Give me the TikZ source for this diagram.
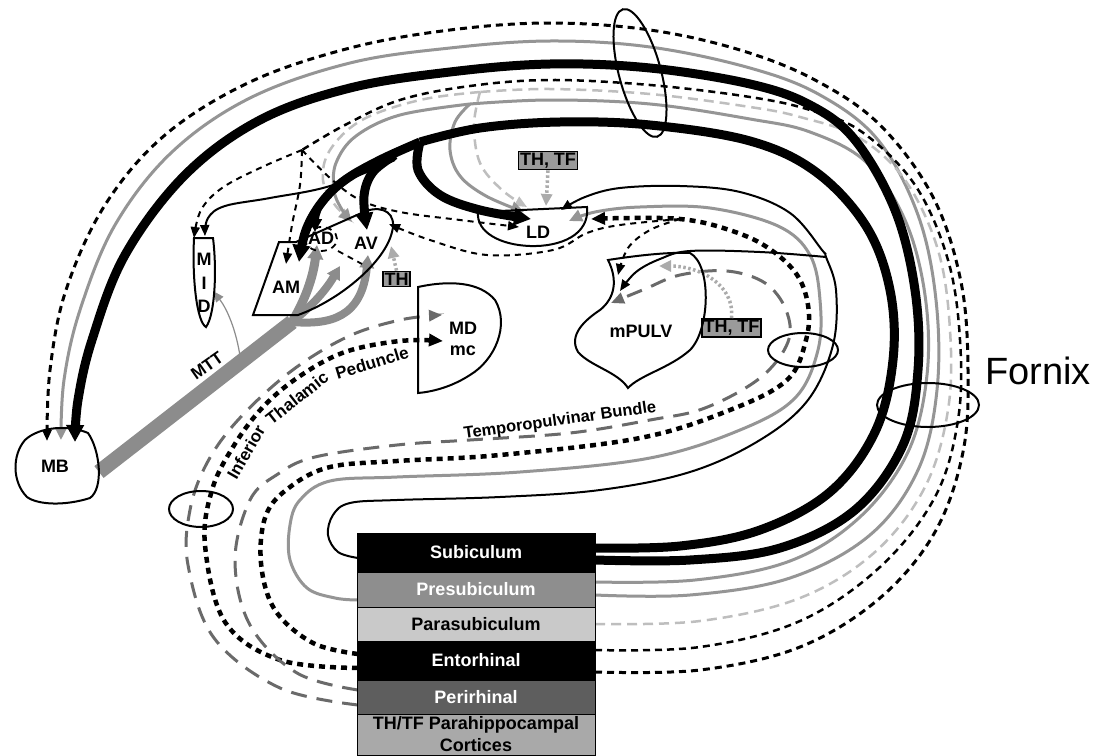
\documentclass[tikz,border=0pt]{standalone}
\usepackage{fontspec}
\setmainfont{Liberation Sans}
\usetikzlibrary{arrows.meta,calc}
\definecolor{gmid}{HTML}{959595}
\definecolor{glight}{HTML}{BEBEBE}
\definecolor{gdark}{HTML}{6A6A6A}
\definecolor{gmtt}{HTML}{8C8C8C}
\definecolor{gpre}{HTML}{8E8E8E}
\definecolor{gpara}{HTML}{C9C9C9}
\definecolor{gperi}{HTML}{5E5E5E}
\definecolor{gthtf}{HTML}{A9A9A9}
\definecolor{gboxc}{HTML}{9A9A9A}
\definecolor{gdot}{HTML}{ABABAB}
\tikzset{
  lbl/.style={font=\fontsize{18}{20}\selectfont\bfseries},
  outl/.style={draw=black, line width=2pt},
  thk/.style={draw=black, line width=9pt},
  tipK/.style={-{Triangle[length=17pt,width=17pt]}},
  tipG/.style={-{Triangle[length=13pt,width=12pt]}},
  tipS/.style={-{Triangle[length=11pt,width=9pt]}},
  grayln/.style={draw=gmid, line width=3pt},
  bdash/.style={draw=black, line width=3pt, dash pattern=on 7pt off 5pt},
  tdash/.style={draw=black, line width=2pt, dash pattern=on 6pt off 5pt},
  lgdash/.style={draw=glight, line width=2.5pt, dash pattern=on 10pt off 6pt},
  hdash/.style={draw=black, line width=4.5pt, dash pattern=on 6pt off 5pt},
  ldash/.style={draw=gdark, line width=3pt, dash pattern=on 16pt off 10pt},
  fineln/.style={draw=black, line width=2pt},
  dotln/.style={draw=gdot, line width=3.5pt, dash pattern=on 2.5pt off 2.5pt},
  rowbox/.style={minimum width=238pt, inner sep=0pt, draw=black, line width=1pt,
    font=\fontsize{18}{20}\selectfont\bfseries},
  thbox/.style={draw=black, fill=gboxc, line width=1.5pt, inner sep=1.5pt,
    font=\fontsize{18}{19}\selectfont\bfseries},
  ring/.style={draw=black, line width=2pt},
  pathlbl/.style={font=\fontsize{17}{19}\selectfont\bfseries, inner sep=0pt},
  sm/.style={smooth, tension=0.6}
}
\begin{document}
\begin{tikzpicture}[x=1pt,y=-1pt]
\useasboundingbox (0,0) rectangle (1103,755);
\fill[white] (0,0) rectangle (1103,755);

% ---------- outlet coordinates on the cortical stack ----------
\coordinate (subR1) at (595,548); \coordinate (subR2) at (595,560);
\coordinate (preR1) at (595,582); \coordinate (preR2) at (595,595);
\coordinate (paraR) at (595,624);
\coordinate (entR1) at (595,650); \coordinate (entR2) at (595,672);
\coordinate (subL) at (358,558); \coordinate (preL) at (358,600);
\coordinate (entL1) at (358,654); \coordinate (entL2) at (358,668);
\coordinate (periL1) at (358,690); \coordinate (periL2) at (358,705);
% targets
\coordinate (mb1) at (47,441); \coordinate (mb2) at (61,440); \coordinate (mb3) at (75,442);
\coordinate (Y) at (302,150);
\coordinate (s5) at (480,92); \coordinate (s6) at (470,104);
\coordinate (s7) at (420,142); \coordinate (j3) at (680,219);
\coordinate (j1) at (826,257);

% ---------- Fornix: thin lines ----------
\draw[bdash,tipS] plot[sm] coordinates {(entR2) (700,670) (800,647) (880,598) (935,532) (963,452) (968,370) (961,282) (933,197) (880,125) (815,80) (740,50) (650,30) (550,23) (450,30) (350,48) (250,82) (165,135) (105,205) (66,290) (50,370) (mb1)};
\draw[grayln,tipG] plot[sm] coordinates {(preR2) (690,595) (790,578) (870,535) (918,470) (937,390) (936,300) (918,215) (878,140) (820,95) (750,68) (650,47) (550,41) (450,48) (350,63) (250,98) (172,152) (115,225) (80,310) (64,380) (mb2)};
\draw[bdash,line width=2.5pt] plot[sm] coordinates {(entR1) (700,647) (800,621) (880,567) (935,497) (958,420) (960,340) (948,260) (915,185) (862,132) (810,110) (750,97) (650,85) (550,80) (470,86) (400,100) (345,125) (Y)};
\draw[lgdash] plot[sm] coordinates {(paraR) (700,621) (800,598) (875,552) (925,487) (948,410) (950,330) (938,250) (905,180) (858,137) (800,117) (750,107) (650,94) (550,89) (s5)};
\draw[lgdash,-{Triangle[length=12pt,width=10pt]}] plot[sm] coordinates {(s5) (474,125) (480,163) (502,190) (527,207)};
\draw[lgdash,-{Triangle[length=12pt,width=10pt]}] plot[sm] coordinates {(s5) (420,100) (362,120) (330,150) (323,180) (335,205) (351,220)};
\draw[grayln] plot[sm] coordinates {(preR1) (695,580) (790,561) (860,517) (908,452) (927,375) (925,295) (905,220) (866,162) (810,132) (750,119) (650,104) (550,100) (s6)};
\draw[grayln,tipG] plot[sm] coordinates {(s6) (455,122) (450,150) (460,176) (486,196) (524,212)};
\draw[grayln,tipG] plot[sm] coordinates {(s6) (400,115) (356,136) (336,163) (334,190) (341,208) (352,222)};

% dashed branches from Y
\draw[tdash,tipS] plot[sm] coordinates {(Y) (260,168) (222,188) (201,210) (194,238)};
\draw[tdash,tipS] plot[sm] coordinates {(Y) (300,185) (292,225) (286,264)};
\draw[tdash,tipS] plot[sm] coordinates {(Y) (330,178) (360,200) (400,212) (460,220) (519,227)};

% ---------- Fornix: thick black ----------
\draw[thk,tipK] plot[sm] coordinates {(subR2) (690,560) (780,548) (855,510) (903,445) (918,370) (915,290) (895,210) (855,140) (810,105) (750,84) (650,68) (550,64) (450,72) (350,88) (260,120) (185,175) (125,255) (92,340) (78,400) (mb3)};
\draw[thk] plot[sm] coordinates {(subR1) (680,546) (760,530) (830,492) (875,432) (893,360) (890,290) (866,226) (816,172) (750,141) (650,125) (560,122) (480,128) (s7)};
\draw[thk,tipK] plot[sm] coordinates {(s7) (380,160) (345,180) (322,202) (306,230) (299,262)};
\draw[thk,tipK] plot[sm] coordinates {(395,155) (373,172) (364,196) (367,230)};
\draw[thk,line width=6pt,-{Triangle[length=13pt,width=13pt]}] plot[sm] coordinates {(345,180) (326,196) (317,214) (315,232)};
\draw[thk,tipK] plot[sm] coordinates {(s7) (418,170) (440,195) (480,210) (531,219)};
% thin solid to MID
\draw[fineln,tipS] plot[sm] coordinates {(395,160) (330,186) (270,198) (225,206) (208,218) (205,236)};

% ---------- loops (temporopulvinar / inferior thalamic peduncle) ----------
\draw[ldash,-{Triangle[length=13pt,width=11pt]}] plot[sm] coordinates {(periL2) (280,688) (214,638) (188,565) (190,510) (207,463) (238,420) (290,372) (347,337) (400,320) (442,315)};
\draw[hdash,-{Triangle[length=14pt,width=12pt]}] plot[sm] coordinates {(entL2) (280,660) (225,622) (205,545) (212,490) (233,447) (263,407) (300,376) (345,352) (400,341) (443,341)};
\draw[ldash,-{Triangle[length=13pt,width=11pt]}] plot[sm] coordinates {(periL1) (297,673) (250,625) (235,560) (250,500) (278,474) (315,457) (397,445) (470,440) (570,433) (650,420) (705,408) (760,378) (788,342) (786,310) (765,283) (727,271) (680,275) (645,289) (611,303)};
\draw[grayln,tipG] plot[sm] coordinates {(preL) (335,598) (307,588) (290,560) (290,525) (300,500) (330,481) (397,477) (520,472) (650,458) (740,430) (795,398) (818,350) (820,300) (810,255) (778,226) (710,208) (640,207) (595,212) (569,221)};
\draw[hdash,-{Triangle[length=14pt,width=12pt]}] plot[sm] coordinates {(entL1) (313,643) (275,610) (261,563) (266,515) (290,487) (330,467) (397,461) (500,455) (640,438) (730,410) (787,380) (806,340) (808,305) (795,272) (762,244) (720,227) (j3) (630,218) (591,219)};
\draw[tdash,tipS] plot[sm] coordinates {(j3) (620,225) (587,233) (553,250) (487,255) (430,240) (389,224)};
\draw[tdash,tipS] plot[sm] coordinates {(j3) (650,230) (628,248) (618,275)};
\draw[fineln,tipS] plot[sm] coordinates {(subL) (338,552) (328,535) (333,515) (350,503) (397,500) (500,497) (600,490) (690,472) (760,440) (808,400) (833,345) (836,290) (j1) (822,250) (790,213) (740,192) (680,186) (620,188) (585,197) (561,210)};
\draw[fineln,tipS] plot[sm] coordinates {(j1) (760,252) (690,251) (660,259) (636,272) (620,291)};

% ---------- TH / TH,TF inputs ----------
\node[thbox] (thLD) at (548,160.5) {TH, TF};
\node[thbox] (thAV) at (396.5,279) {TH};
\node[thbox] (thPU) at (731.5,328) {TH, TF};
\draw[dotln,-{Triangle[length=12pt,width=11pt]}] (thLD.south) -- (546,206);
\draw[dotln,-{Triangle[length=12pt,width=11pt]}] (thAV.north) -- (391,246);
\draw[dotln,-{Triangle[length=12pt,width=11pt]}] (thPU.north) .. controls (735,285) and (700,266) .. (659,266);

% ---------- MTT ----------
\coordinate (mbR) at (99,472);
\coordinate (mttS) at (292,322);
\draw[draw=gmtt,line width=15pt] (mbR) -- (mttS);
\draw[draw=gmtt,line width=9pt,-{Triangle[length=14pt,width=15pt]}] (mttS) .. controls (305,300) and (313,278) .. (317,245);
\draw[draw=gmtt,line width=8pt,-{Triangle[length=13pt,width=14pt]}] (mttS) .. controls (312,306) and (326,290) .. (340,266);
\draw[draw=gmtt,line width=8pt,-{Triangle[length=13pt,width=14pt]}] (mttS) .. controls (330,325) and (362,318) .. (368,255);
\draw[draw=gmtt,line width=1.2pt,-{Triangle[length=11pt,width=9pt]}] (241,364) .. controls (238,335) and (228,310) .. (213,291);

% ---------- nuclei outlines ----------
\draw[outl] (25,440) .. controls (40,426) and (70,425) .. (88,433) .. controls (100,450) and (104,488) .. (90,498) .. controls (65,506) and (38,505) .. (27,497) .. controls (12,482) and (12,455) .. (25,440) -- cycle;
\node[lbl] (MB) at (55,466) {MB};
\draw[outl] (194,238) -- (213,238) .. controls (217,270) and (215,315) .. (206,327) .. controls (197,322) and (192,280) .. (194,238) -- cycle;
\node[lbl] (MIDm) at (204,259) {M};
\node[lbl] (MIDi) at (204,283) {I};
\node[lbl] (MIDd) at (204,306) {D};
\draw[outl] (279,242) -- (296,242) -- (366,211) .. controls (384,205) and (397,214) .. (392,232) .. controls (385,262) and (340,300) .. (298,315) -- (253,315) -- cycle;
\draw[tdash,line width=1.8pt] (321,239) ellipse (16pt and 12pt);
\draw[tdash,line width=1.8pt] (338,251) -- (362,264);
\node[lbl] (AM) at (286,287) {AM};
\node[lbl] (AD) at (321,238) {AD};
\node[lbl] (AV) at (366,243) {AV};
\draw[outl] (478,212) -- (587,207) .. controls (590,235) and (560,247) .. (530,246) .. controls (500,245) and (476,232) .. (478,212) -- cycle;
\node[lbl] (LD) at (538,232) {LD};
\draw[outl] (418,393) -- (418,287) .. controls (450,280) and (480,282) .. (495,300) .. controls (510,325) and (495,360) .. (470,375) .. controls (450,388) and (430,392) .. (418,393) -- cycle;
\node[lbl] (MD) at (463,328) {MD};
\node[lbl] (mc) at (463,351) {mc};
\draw[outl] (608,260) .. controls (640,255) and (670,252) .. (690,253) .. controls (712,265) and (710,330) .. (690,350) .. controls (670,368) and (640,375) .. (628,388) .. controls (618,372) and (590,366) .. (578,352) .. controls (568,335) and (585,320) .. (600,310) .. controls (615,298) and (618,280) .. (608,260) -- cycle;
\node[lbl] (mPULV) at (641,331) {mPULV};

% ---------- rings ----------
\draw[ring] (640,73) ellipse [x radius=66pt, y radius=21pt, rotate=-75];
\draw[ring] (928,405) ellipse [x radius=51pt, y radius=22pt];
\draw[ring] (803,350) ellipse [x radius=35pt, y radius=17pt];
\draw[ring] (201,509) ellipse [x radius=32pt, y radius=18pt];

% ---------- cortical stack ----------
\node[rowbox, fill=black, text=white, minimum height=39pt] (sub) at (476,552.5) {Subiculum};
\node[rowbox, fill=gpre, text=white, minimum height=35pt] (pre) at (476,589.5) {Presubiculum};
\node[rowbox, fill=gpara, text=black, minimum height=34pt] (para) at (476,624) {Parasubiculum};
\node[rowbox, fill=black, text=white, minimum height=39pt] (ent) at (476,660.5) {Entorhinal};
\node[rowbox, fill=gperi, text=white, minimum height=34pt] (peri) at (476,697) {Perirhinal};
\node[rowbox, fill=gthtf, text=black, minimum height=41pt, align=center,
  font=\fontsize{18}{22}\selectfont\bfseries] (thtf) at (476,734.5) {TH/TF Parahippocampal\\Cortices};

% ---------- labels ----------
\node[font=\fontsize{17}{19}\selectfont\bfseries, rotate=35] (mtt) at (207,366) {MTT};
\node[font=\fontsize{16.5}{18}\selectfont\bfseries, rotate=8] (tpb) at (560,421) {Temporopulvinar Bundle};
\node[pathlbl, rotate=60] (itp1) at (246,452) {Inferior};
\node[pathlbl, rotate=38] (itp2) at (297,398) {Thalamic};
\node[pathlbl, rotate=17] (itp3) at (372,363) {Peduncle};
\node[font=\fontsize{38}{40}\selectfont] (fornix) at (1038,371) {Fornix};
\end{tikzpicture}
\end{document}
